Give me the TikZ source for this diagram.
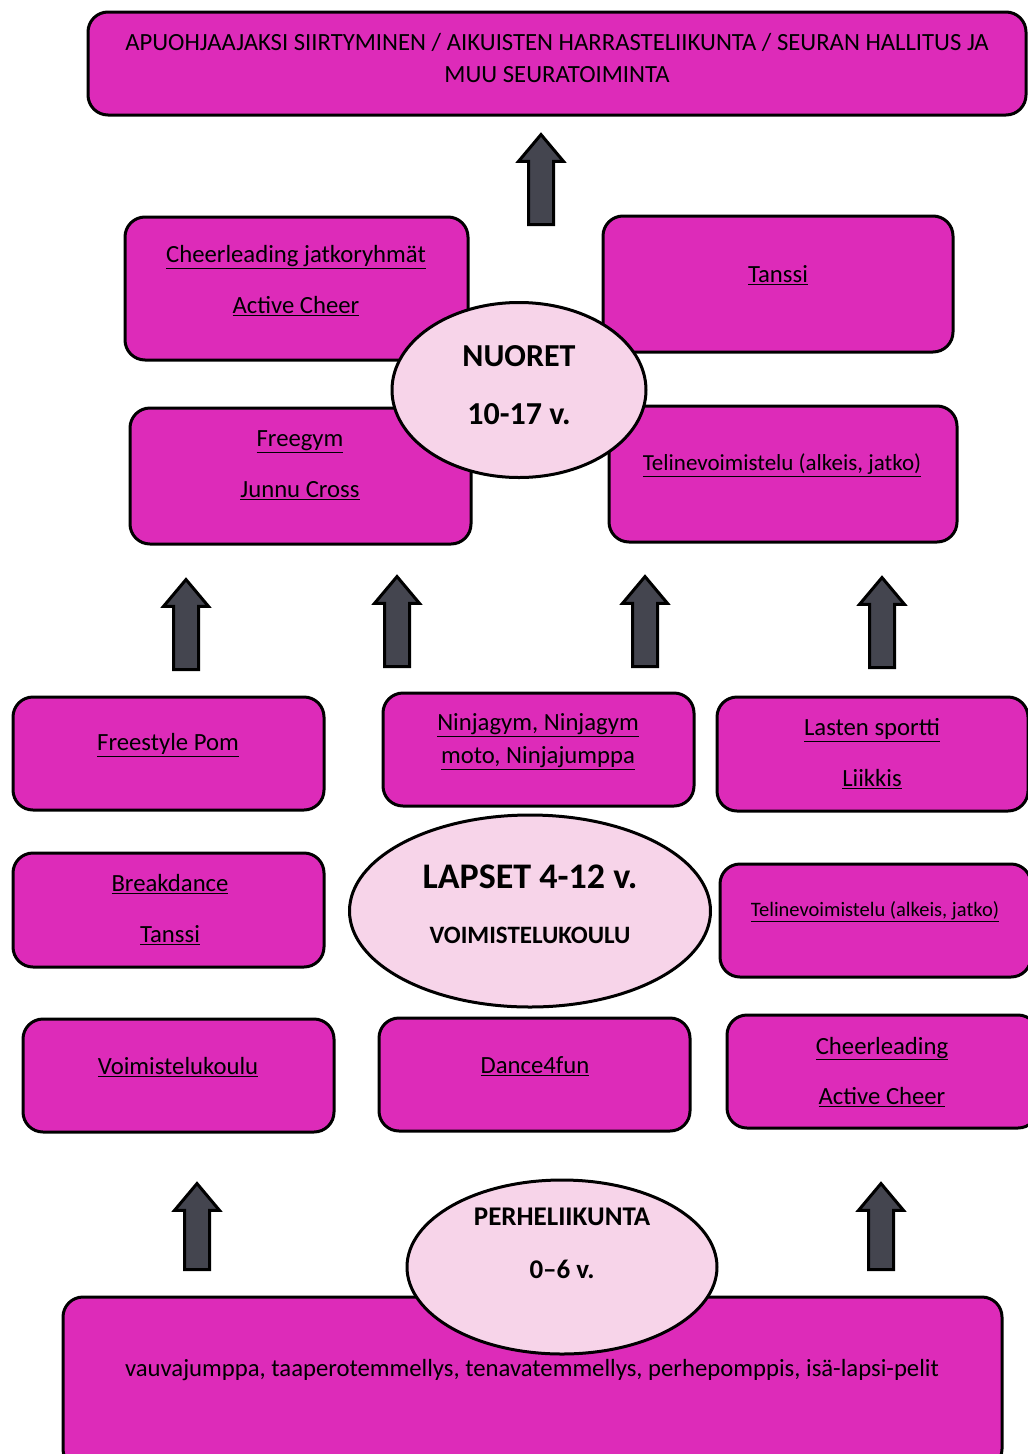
\documentclass[tikz,border=0pt]{standalone}
\usepackage{fontspec}
\setmainfont{Carlito}
\usetikzlibrary{shapes.geometric, shapes.arrows}
\definecolor{grppink}{RGB}{221, 43, 185}
\definecolor{agepink}{RGB}{247, 212, 233}
\definecolor{arrgray}{RGB}{68, 69, 79}

\begin{document}
\begin{tikzpicture}[
    x=1pt, y=-1pt,
    grp/.style={draw, line width=3pt, rounded corners=20pt, fill=grppink, inner sep=0pt},
    age/.style={ellipse, draw, line width=3pt, fill=agepink, inner sep=0pt},
    agetxt/.style={align=center, font=\bfseries},
    lbl/.style={align=center, font=\fontsize{24.7}{30}\selectfont},
    uparr/.style={single arrow, draw, line width=3pt, fill=arrgray, rotate=90, inner sep=11pt,
        minimum height=90pt, single arrow head extend=10pt, single arrow tip angle=80}
  ]
  \useasboundingbox (0,0) rectangle (1028,1454);

  % top level
  \node[grp, minimum width=938pt, minimum height=103pt] (top) at (557,63.5) {};
  \node[lbl] (top-t) at (557,58) {APUOHJAAJAKSI SIIRTYMINEN / AIKUISTEN HARRASTELIIKUNTA / SEURAN HALLITUS JA\\[2pt] MUU SEURATOIMINTA};

  \node[uparr] (arr-top) at (541,187) {};

  % nuoret
  \node[grp, minimum width=343pt, minimum height=143pt] (jatko) at (296.5,288.5) {};
  \node[lbl] (jatko-t) at (296,280.5) {\underline{Cheerleading jatkoryhmät}\\[21pt]\underline{Active Cheer}};
  \node[grp, minimum width=350pt, minimum height=136pt] (tanssi) at (778,284) {};
  \node[lbl] (tanssi-t) at (778,275) {\underline{Tanssi}};
  \node[grp, minimum width=341pt, minimum height=136pt] (freegym) at (300.5,476) {};
  \node[lbl] (freegym-t) at (300,465.5) {\underline{Freegym}\\[21pt]\underline{Junnu Cross}};
  \node[grp, minimum width=348pt, minimum height=136pt] (teline) at (783,474) {};
  \node[lbl, font=\fontsize{23}{28}\selectfont] (teline-t) at (782,465) {\underline{Telinevoimistelu (alkeis, jatko)}};
  \node[age, minimum width=254pt, minimum height=175pt] (nuoret) at (519,390) {};
  \node[agetxt, font=\bfseries\fontsize{32}{38}\selectfont] (nuoret-t) at (519,385) {NUORET\\[20pt]10-17 v.};

  \foreach \ax/\ay [count=\k] in {186/632, 397/629, 645/629, 882/630}
    \node[uparr] (arr-mid\k) at (\ax,\ay) {};

  % lapset
  \node[grp, minimum width=311pt, minimum height=113pt] (pom) at (168.5,753.5) {};
  \node[lbl] (pom-t) at (168,745) {\underline{Freestyle Pom}};
  \node[grp, minimum width=311pt, minimum height=113pt] (ninja) at (538.5,749.5) {};
  \node[lbl] (ninja-t) at (538,741.5) {\underline{Ninjagym, Ninjagym}\\[3pt]\underline{moto, Ninjajumppa}};
  \node[grp, minimum width=311pt, minimum height=114pt] (sportti) at (872.5,754) {};
  \node[lbl] (sportti-t) at (872,754) {\underline{Lasten sportti}\\[21pt]\underline{Liikkis}};
  \node[grp, minimum width=311pt, minimum height=114pt] (break) at (168.5,910) {};
  \node[lbl] (break-t) at (170,910) {\underline{Breakdance}\\[21pt]\underline{Tanssi}};
  \node[grp, minimum width=311pt, minimum height=113pt] (telsmall) at (875.5,920.5) {};
  \node[lbl, font=\fontsize{20.5}{25}\selectfont] (telsmall-t) at (875,912) {\underline{Telinevoimistelu (alkeis, jatko)}};
  \node[age, minimum width=361pt, minimum height=192pt] (lapset) at (530,911) {};
  \node[agetxt] (lapset-t) at (530,904) {{\fontsize{36}{43}\selectfont LAPSET 4-12 v.}\\[37pt]{\fontsize{25}{30}\selectfont VOIMISTELUKOULU}};
  \node[grp, minimum width=311pt, minimum height=113pt] (voim) at (178.5,1075.5) {};
  \node[lbl] (voim-t) at (178,1067) {\underline{Voimistelukoulu}};
  \node[grp, minimum width=311pt, minimum height=113pt] (dance) at (534.5,1074.5) {};
  \node[lbl] (dance-t) at (535,1066) {\underline{Dance4fun}};
  \node[grp, minimum width=311pt, minimum height=113pt] (cheer) at (882.5,1071.5) {};
  \node[lbl] (cheer-t) at (882,1072) {\underline{Cheerleading}\\[21pt]\underline{Active Cheer}};

  \node[uparr, minimum height=86pt] (arr-low1) at (197,1234) {};
  \node[uparr, minimum height=86pt] (arr-low2) at (881,1234) {};

  % perheliikunta
  \node[grp, minimum width=939pt, minimum height=172pt] (perhe-box) at (532.5,1383) {};
  \node[lbl] (perhe-box-t) at (532,1370) {vauvajumppa, taaperotemmellys, tenavatemmellys, perhepomppis, isä-lapsi-pelit};
  \node[age, minimum width=310pt, minimum height=174pt] (perhe) at (562,1267) {};
  \node[agetxt, font=\bfseries\fontsize{27}{32}\selectfont] (perhe-t) at (562,1243.5) {PERHELIIKUNTA\\[21pt]0–6 v.};

\end{tikzpicture}
\end{document}
